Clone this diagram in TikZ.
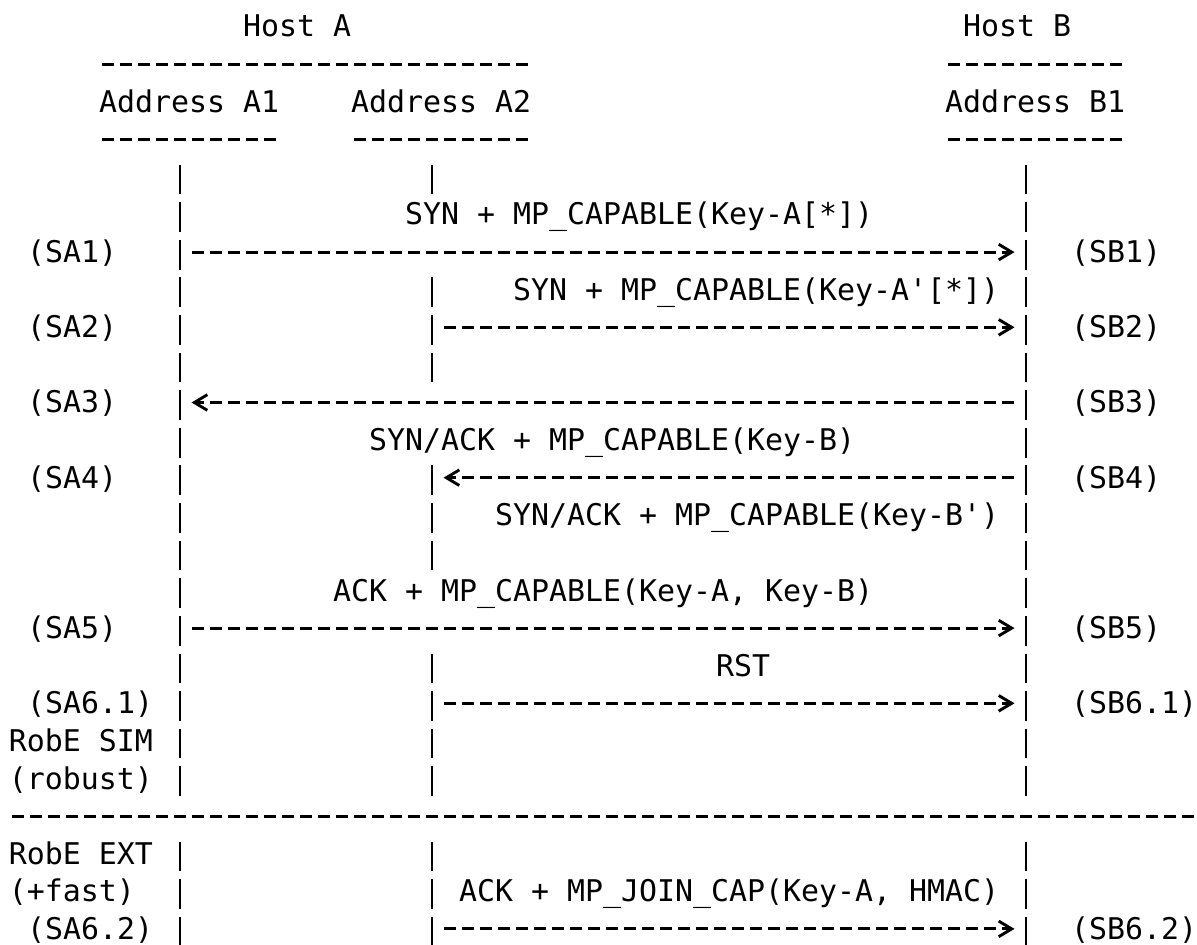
\documentclass[tikz,border=0pt]{standalone}
\usepackage{fontspec}
\newfontfamily\monofam{DejaVu Sans Mono}
\usetikzlibrary{arrows.meta}
\newcommand\rowb[1]{(37+37.6*(#1))}
\newcommand\colx[1]{(9+18*(#1))}
\begin{document}
\begin{tikzpicture}[x=0.5pt,y=-0.5pt,
  lbl/.style={anchor=base west, inner sep=0pt, outer sep=0pt,
    font=\monofam\fontsize{14.95pt}{18pt}\selectfont},
  rule/.style={line width=1.45pt, dash pattern=on 6.15pt off 2.85pt},
  life/.style={line width=1.45pt, dash pattern=on 14.875pt off 3.925pt},
  msg/.style={line width=1.45pt, dash pattern=on 6.15pt off 2.85pt,
    -{Straight Barb[length=6.5pt,width=7.8pt]}}]
\useasboundingbox (0,0) rectangle (1197,945);

% headers
\node[lbl] (hostA) at ({\colx{13}},{\rowb{0}}) {Host A};
\node[lbl] (hostB) at ({\colx{53}},{\rowb{0}}) {Host B};
\draw[rule] ({\colx{5}+2.85},{\rowb{1}-10.5}) -- ({\colx{28}+15.15},{\rowb{1}-10.5});
\draw[rule] ({\colx{52}+2.85},{\rowb{1}-10.5}) -- ({\colx{61}+15.15},{\rowb{1}-10.5});
\node[lbl] (addrA1) at ({\colx{5}},{\rowb{2}}) {Address A1};
\node[lbl] (addrA2) at ({\colx{19}},{\rowb{2}}) {Address A2};
\node[lbl] (addrB1) at ({\colx{52}},{\rowb{2}}) {Address B1};
\draw[rule] ({\colx{5}+2.85},{\rowb{3}-10.5}) -- ({\colx{14}+15.15},{\rowb{3}-10.5});
\draw[rule] ({\colx{19}+2.85},{\rowb{3}-10.5}) -- ({\colx{28}+15.15},{\rowb{3}-10.5});
\draw[rule] ({\colx{52}+2.85},{\rowb{3}-10.5}) -- ({\colx{61}+15.15},{\rowb{3}-10.5});

% lifelines (bar columns 9, 23, 56)
\foreach \c/\a/\b in {9/4/20, 9/22/24, 56/4/20, 56/22/24,
                      23/4/4, 23/7/9, 23/12/14, 23/17/20, 23/22/24}
  \draw[life] ({18+18*\c},{\rowb{\a}-22.7}) -- ({18+18*\c},{\rowb{\b}+7.05});

% separator
\draw[rule] ({\colx{0}+2.85},{\rowb{21}-10.5}) -- ({\colx{65}+15.15},{\rowb{21}-10.5});

% message labels
\node[lbl] (t1) at ({\colx{22}},{\rowb{5}}) {SYN + MP\_CAPABLE(Key-A[*])};
\node[lbl] (t2) at ({\colx{28}},{\rowb{7}}) {SYN + MP\_CAPABLE(Key-A'[*])};
\node[lbl] (t3) at ({\colx{20}},{\rowb{11}}) {SYN/ACK + MP\_CAPABLE(Key-B)};
\node[lbl] (t4) at ({\colx{27}},{\rowb{13}}) {SYN/ACK + MP\_CAPABLE(Key-B')};
\node[lbl] (t5) at ({\colx{18}},{\rowb{15}}) {ACK + MP\_CAPABLE(Key-A, Key-B)};
\node[lbl] (t6) at ({\colx{39}+5},{\rowb{17}}) {RST};
\node[lbl] (t7) at ({\colx{25}},{\rowb{23}}) {ACK + MP\_JOIN\_CAP(Key-A, HMAC)};

% state labels left
\node[lbl] (sa1) at ({\colx{1}},{\rowb{6}}) {(SA1)};
\node[lbl] (sa2) at ({\colx{1}},{\rowb{8}}) {(SA2)};
\node[lbl] (sa3) at ({\colx{1}},{\rowb{10}}) {(SA3)};
\node[lbl] (sa4) at ({\colx{1}},{\rowb{12}}) {(SA4)};
\node[lbl] (sa5) at ({\colx{1}},{\rowb{16}}) {(SA5)};
\node[lbl] (sa61) at ({\colx{1}},{\rowb{18}}) {(SA6.1)};
\node[lbl] (sim) at ({\colx{0}},{\rowb{19}}) {RobE SIM};
\node[lbl] (rob) at ({\colx{0}},{\rowb{20}}) {(robust)};
\node[lbl] (ext) at ({\colx{0}},{\rowb{22}}) {RobE EXT};
\node[lbl] (fast) at ({\colx{0}},{\rowb{23}}) {(+fast)};
\node[lbl] (sa62) at ({\colx{1}},{\rowb{24}}) {(SA6.2)};

% state labels right
\node[lbl] (sb1) at ({\colx{59}},{\rowb{6}}) {(SB1)};
\node[lbl] (sb2) at ({\colx{59}},{\rowb{8}}) {(SB2)};
\node[lbl] (sb3) at ({\colx{59}},{\rowb{10}}) {(SB3)};
\node[lbl] (sb4) at ({\colx{59}},{\rowb{12}}) {(SB4)};
\node[lbl] (sb5) at ({\colx{59}},{\rowb{16}}) {(SB5)};
\node[lbl] (sb61) at ({\colx{59}},{\rowb{18}}) {(SB6.1)};
\node[lbl] (sb62) at ({\colx{59}},{\rowb{24}}) {(SB6.2)};

% message endpoints
\coordinate (m1s) at ({\colx{10}+2.85},{\rowb{6}-10.5});
\coordinate (m1e) at ({\colx{55}+15.5},{\rowb{6}-10.5});
\coordinate (m2s) at ({\colx{24}+2.85},{\rowb{8}-10.5});
\coordinate (m2e) at ({\colx{55}+15.5},{\rowb{8}-10.5});
\coordinate (m3s) at ({\colx{55}+15.15},{\rowb{10}-10.5});
\coordinate (m3e) at ({\colx{10}+2.5},{\rowb{10}-10.5});
\coordinate (m4s) at ({\colx{55}+15.15},{\rowb{12}-10.5});
\coordinate (m4e) at ({\colx{24}+2.5},{\rowb{12}-10.5});
\coordinate (m5s) at ({\colx{10}+2.85},{\rowb{16}-10.5});
\coordinate (m5e) at ({\colx{55}+15.5},{\rowb{16}-10.5});
\coordinate (m6s) at ({\colx{24}+2.85},{\rowb{18}-10.5});
\coordinate (m6e) at ({\colx{55}+15.5},{\rowb{18}-10.5});
\coordinate (m7s) at ({\colx{24}+2.85},{\rowb{24}-10.5});
\coordinate (m7e) at ({\colx{55}+15.5},{\rowb{24}-10.5});

\draw[msg] (m1s) -- (m1e);
\draw[msg] (m2s) -- (m2e);
\draw[msg] (m3s) -- (m3e);
\draw[msg] (m4s) -- (m4e);
\draw[msg] (m5s) -- (m5e);
\draw[msg] (m6s) -- (m6e);
\draw[msg] (m7s) -- (m7e);
\end{tikzpicture}
\end{document}
